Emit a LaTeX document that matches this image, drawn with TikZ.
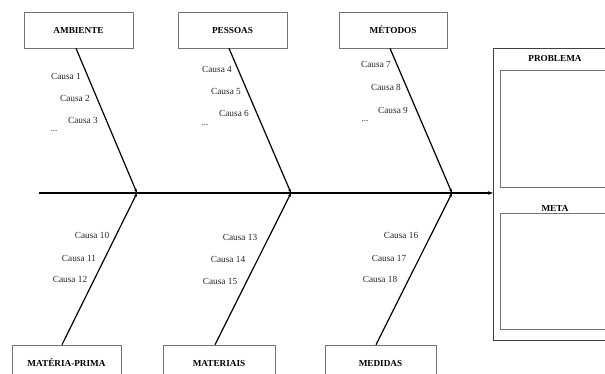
\documentclass[tikz,border=0pt]{standalone}
\usepackage{fontspec}
\setmainfont{Liberation Serif}
\usetikzlibrary{arrows.meta}
\begin{document}
\begin{tikzpicture}[x=1pt,y=-1pt,
  catbox/.style={draw=black!55,line width=0.7pt,minimum width=109pt,minimum height=36pt,inner sep=0pt,font=\fontsize{9.2}{11}\selectfont\bfseries},
  causa/.style={inner sep=0pt,font=\fontsize{9.3}{11}\selectfont,text=black!85},
  bone/.style={line width=1.2pt,-{Stealth[length=4pt,width=3pt]}},
  spine/.style={line width=1.3pt,-{Stealth[length=5pt,width=3.5pt]}},
  panel/.style={draw=black!55,line width=0.7pt},
  head/.style={inner sep=0pt,font=\fontsize{9.2}{11}\selectfont\bfseries}]
\useasboundingbox (0,0) rectangle (605,373);
\clip (0,0) rectangle (605,373);
% right panel
\draw[draw=black!75,line width=0.8pt] (493,48) rectangle (620,340);
\node[panel,anchor=north west,minimum width=120pt,minimum height=117pt,inner sep=0pt] (prob) at (500,70) {};
\node[panel,anchor=north west,minimum width=120pt,minimum height=116pt,inner sep=0pt] (meta) at (500,213) {};
\node[head] (probt) at (555,58) {PROBLEMA};
\node[head] (metat) at (555,208) {META};
\coordinate (head) at (493,193);
% category boxes
\node[catbox] (amb) at (78.5,30) {AMBIENTE};
\node[catbox] (pes) at (232.5,30) {PESSOAS};
\node[catbox,minimum width=108pt] (met) at (393,30) {MÉTODOS};
\node[catbox] (mat) at (66.5,363) {MATÉRIA-PRIMA};
\node[catbox,minimum width=112pt] (mai) at (219,363) {MATERIAIS};
\node[catbox,minimum width=111pt] (med) at (380.5,363) {MEDIDAS};
% spine
\coordinate (tail) at (39,193);
\coordinate (j1) at (137,193);
\coordinate (j2) at (291,193);
\coordinate (j3) at (452,193);
\draw[spine] (tail) -- (head);
% bones
\draw[bone] (amb.south -| 76,0) -- (j1);
\draw[bone] (pes.south -| 229,0) -- (j2);
\draw[bone] (met.south -| 390,0) -- (j3);
\draw[bone] (mat.north -| 62,0) -- (j1);
\draw[bone] (mai.north -| 215,0) -- (j2);
\draw[bone] (med.north -| 376,0) -- (j3);
% causes
\node[causa] (c1) at (66,76) {Causa 1};
\node[causa] (c2) at (75,98) {Causa 2};
\node[causa] (c3) at (83,120) {Causa 3};
\node[causa] (d1) at (54,131) {...};
\node[causa] (c4) at (217,69) {Causa 4};
\node[causa] (c5) at (226,91) {Causa 5};
\node[causa] (c6) at (234,113) {Causa 6};
\node[causa] (d2) at (205,125) {...};
\node[causa] (c7) at (376,64) {Causa 7};
\node[causa] (c8) at (386,87) {Causa 8};
\node[causa] (c9) at (393,110) {Causa 9};
\node[causa] (d3) at (365,121) {...};
\node[causa] (c10) at (92,235) {Causa 10};
\node[causa] (c11) at (79,258) {Causa 11};
\node[causa] (c12) at (70,279) {Causa 12};
\node[causa] (c13) at (240,237) {Causa 13};
\node[causa] (c14) at (228,259) {Causa 14};
\node[causa] (c15) at (220,281) {Causa 15};
\node[causa] (c16) at (401,235) {Causa 16};
\node[causa] (c17) at (389,258) {Causa 17};
\node[causa] (c18) at (380,279) {Causa 18};
\end{tikzpicture}
\end{document}
